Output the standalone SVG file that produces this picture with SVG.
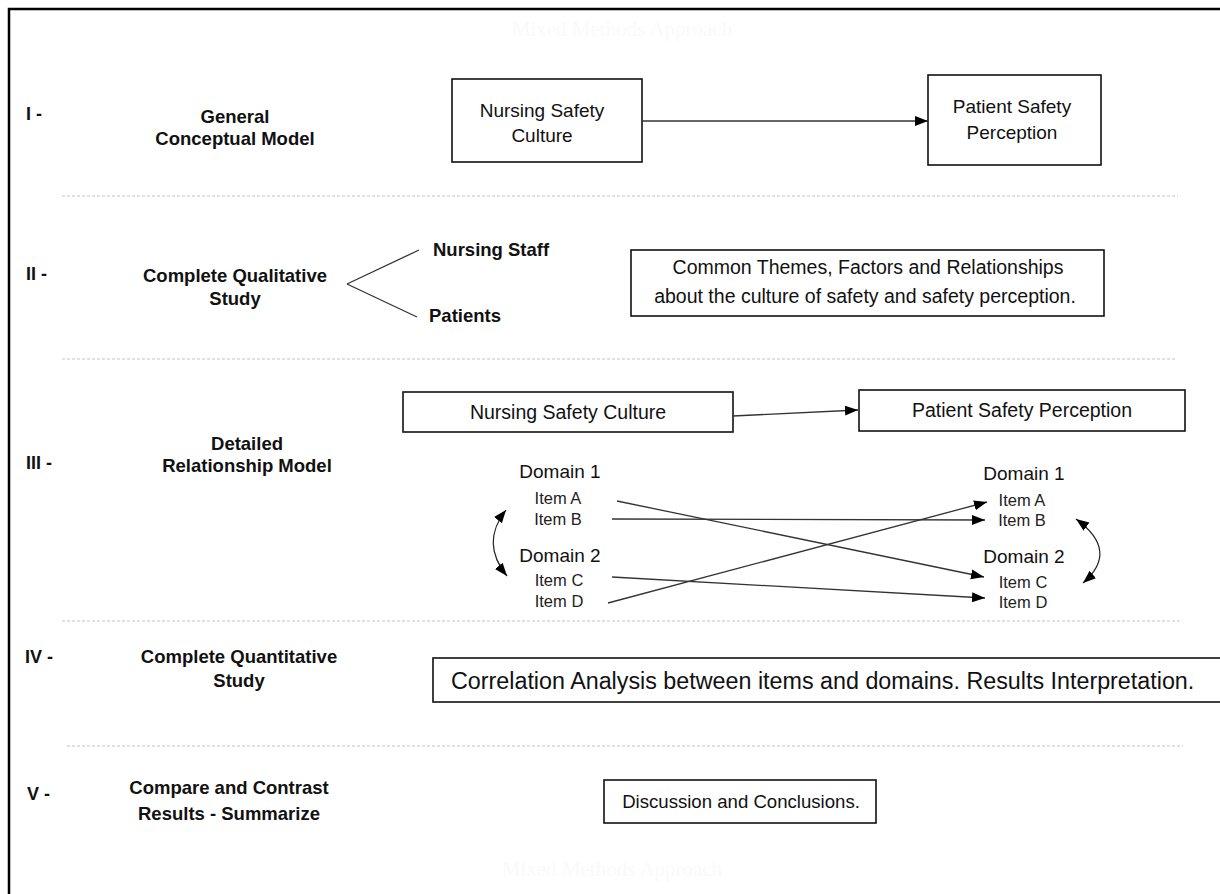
<svg xmlns="http://www.w3.org/2000/svg" width="1220" height="894" viewBox="0 0 1220 894">
  <style>
    .lbl { font-family: "Liberation Sans", Arial, sans-serif; font-weight: bold; font-size: 18.5px; fill: #111; }
    .num { font-family: "Liberation Sans", Arial, sans-serif; font-weight: bold; font-size: 18px; fill: #111; }
    .txt { font-family: "Liberation Sans", Arial, sans-serif; font-size: 19.5px; fill: #111; }
    .dom { font-family: "Liberation Sans", Arial, sans-serif; font-size: 19px; fill: #111; }
    .item { font-family: "Liberation Sans", Arial, sans-serif; font-size: 16.5px; fill: #222; }
    .ghost { font-family: "Liberation Serif", "Times New Roman", serif; font-size: 21px; fill: #fafafa; }
    .box { fill: #fff; stroke: #111; stroke-width: 1.6; }
    .sep { stroke: #c4c4c4; stroke-width: 1; stroke-dasharray: 3 2; fill: none; }
    .link { stroke: #333; stroke-width: 1.3; fill: none; }
    .arrow { stroke: #333; stroke-width: 1.3; fill: none; marker-end: url(#head); }
    .dbl { stroke: #222; stroke-width: 1.2; fill: none; marker-start: url(#head); marker-end: url(#head); }
  </style>
  <defs>
    <marker id="head" markerUnits="userSpaceOnUse" markerWidth="14" markerHeight="12" viewBox="0 0 14 12" refX="13" refY="6" orient="auto-start-reverse">
      <path d="M0,1 L13,6 L0,11 Z" fill="#000"/>
    </marker>
  </defs>

  <rect width="1220" height="894" fill="#fff"/>

  <!-- outer frame (only left and top edges fall inside the canvas) -->
  <path d="M9,894 V9 H1220" fill="none" stroke="#000" stroke-width="2.5"/>

  <text class="ghost" x="622" y="36" text-anchor="middle">Mixed Methods Approach</text>
  <text class="ghost" x="612" y="876" text-anchor="middle">Mixed Methods Approach</text>

  <!-- section separators -->
  <g id="separators">
    <line class="sep" x1="62" y1="196" x2="1178" y2="196"/>
    <line class="sep" x1="62" y1="359" x2="1176" y2="359"/>
    <line class="sep" x1="62" y1="621" x2="1181" y2="621"/>
    <line class="sep" x1="67" y1="746" x2="1183" y2="746"/>
  </g>

  <!-- stage labels -->
  <g id="stage-1">
    <text class="num" x="26" y="120">I -</text>
    <text class="lbl" x="235" y="123" text-anchor="middle">General</text>
    <text class="lbl" x="235" y="145" text-anchor="middle">Conceptual Model</text>
  </g>
  <g id="stage-2">
    <text class="num" x="26" y="280">II -</text>
    <text class="lbl" x="235" y="282" text-anchor="middle">Complete Qualitative</text>
    <text class="lbl" x="235" y="305" text-anchor="middle">Study</text>
  </g>
  <g id="stage-3">
    <text class="num" x="26" y="469">III -</text>
    <text class="lbl" x="247" y="450" text-anchor="middle">Detailed</text>
    <text class="lbl" x="247" y="472" text-anchor="middle">Relationship Model</text>
  </g>
  <g id="stage-4">
    <text class="num" x="25" y="663">IV -</text>
    <text class="lbl" x="239" y="663" text-anchor="middle">Complete Quantitative</text>
    <text class="lbl" x="239" y="687" text-anchor="middle">Study</text>
  </g>
  <g id="stage-5">
    <text class="num" x="27" y="800">V -</text>
    <text class="lbl" x="229" y="794" text-anchor="middle">Compare and Contrast</text>
    <text class="lbl" x="229" y="820" text-anchor="middle">Results - Summarize</text>
  </g>

  <!-- stage I nodes -->
  <g id="nursing-culture-1">
    <rect class="box" x="452" y="79" width="190" height="83"/>
    <text class="txt" x="542" y="117" text-anchor="middle" style="font-size:19px">Nursing Safety</text>
    <text class="txt" x="542" y="142" text-anchor="middle" style="font-size:19px">Culture</text>
  </g>
  <g id="patient-perception-1">
    <rect class="box" x="928" y="75" width="173" height="90"/>
    <text class="txt" x="1012" y="113" text-anchor="middle" style="font-size:19px">Patient Safety</text>
    <text class="txt" x="1012" y="139" text-anchor="middle" style="font-size:19px">Perception</text>
  </g>

  <!-- stage II nodes -->
  <g id="nursing-staff">
    <text class="lbl" x="433" y="256">Nursing Staff</text>
  </g>
  <g id="patients">
    <text class="lbl" x="429" y="322">Patients</text>
  </g>
  <g id="themes">
    <rect class="box" x="631" y="250" width="473" height="66"/>
    <text class="txt" x="868" y="274" text-anchor="middle">Common Themes, Factors and Relationships</text>
    <text class="txt" x="865" y="303" text-anchor="middle">about the culture of safety and safety perception.</text>
  </g>

  <!-- stage III nodes -->
  <g id="nursing-culture-3">
    <rect class="box" x="403" y="392" width="330" height="40"/>
    <text class="txt" x="568" y="419" text-anchor="middle">Nursing Safety Culture</text>
  </g>
  <g id="patient-perception-3">
    <rect class="box" x="859" y="390" width="326" height="41"/>
    <text class="txt" x="1022" y="417" text-anchor="middle">Patient Safety Perception</text>
  </g>
  <g id="culture-domains">
    <text class="dom" x="560" y="478" text-anchor="middle">Domain 1</text>
    <text class="item" x="558" y="504" text-anchor="middle">Item A</text>
    <text class="item" x="558" y="525" text-anchor="middle">Item B</text>
    <text class="dom" x="560" y="562" text-anchor="middle">Domain 2</text>
    <text class="item" x="559" y="586" text-anchor="middle">Item C</text>
    <text class="item" x="559" y="607" text-anchor="middle">Item D</text>
  </g>
  <g id="perception-domains">
    <text class="dom" x="1024" y="480" text-anchor="middle">Domain 1</text>
    <text class="item" x="1022" y="506" text-anchor="middle">Item A</text>
    <text class="item" x="1022" y="526" text-anchor="middle">Item B</text>
    <text class="dom" x="1024" y="563" text-anchor="middle">Domain 2</text>
    <text class="item" x="1023" y="588" text-anchor="middle">Item C</text>
    <text class="item" x="1023" y="608" text-anchor="middle">Item D</text>
  </g>

  <!-- stage IV node -->
  <g id="correlation">
    <rect class="box" x="433" y="658" width="800" height="44"/>
    <text class="txt" x="451" y="689" style="font-size:23.3px">Correlation Analysis between items and domains. Results Interpretation.</text>
  </g>

  <!-- stage V node -->
  <g id="discussion">
    <rect class="box" x="604" y="780" width="272" height="43"/>
    <text class="txt" x="741" y="808" text-anchor="middle" style="font-size:18.6px">Discussion and Conclusions.</text>
  </g>

  <!-- connectors -->
  <g id="connectors">
    <line class="arrow" x1="642" y1="121" x2="928" y2="121"/>
    <line class="link" x1="347" y1="284" x2="419" y2="250"/>
    <line class="link" x1="347" y1="284" x2="417" y2="317"/>
    <line class="arrow" x1="733" y1="416" x2="858" y2="410"/>
    <line class="arrow" x1="617" y1="501" x2="984" y2="577"/>
    <line class="arrow" x1="612" y1="519" x2="985" y2="520"/>
    <line class="arrow" x1="612" y1="577" x2="985" y2="598"/>
    <line class="arrow" x1="608" y1="603" x2="987" y2="502"/>
    <path class="dbl" d="M506,510 Q480,543 507,576"/>
    <path class="dbl" d="M1076,519 Q1120,551 1083,583"/>
  </g>
</svg>
